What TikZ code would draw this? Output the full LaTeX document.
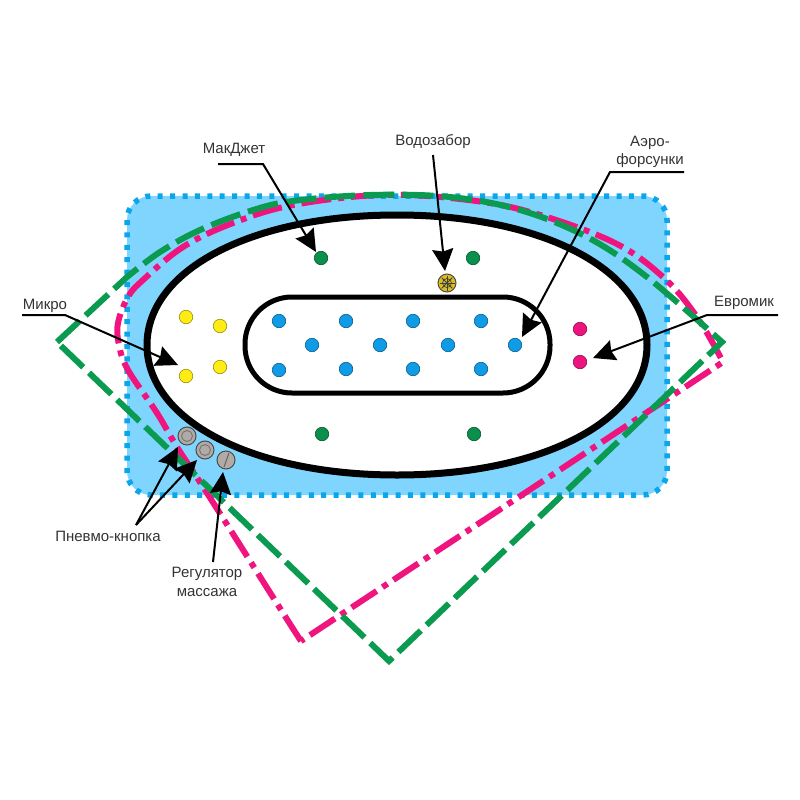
\documentclass[tikz,border=0pt]{standalone}
\usepackage{fontspec}
\setmainfont{Liberation Sans}
\usetikzlibrary{arrows.meta,calc}
\definecolor{skyfill}{HTML}{7FD5FD}
\definecolor{skyline}{HTML}{0AA5EA}
\definecolor{grn}{HTML}{0A9B50}
\definecolor{mag}{HTML}{F0147F}
\definecolor{dotblue}{HTML}{0F9BE6}
\definecolor{dotgreen}{HTML}{0A8F4C}
\definecolor{dotyel}{HTML}{FFEC14}
\definecolor{dotmag}{HTML}{EE1480}
\definecolor{dotgold}{HTML}{D9BE1E}
\definecolor{btn}{HTML}{B0ABA6}
\definecolor{txt}{HTML}{333333}
\tikzset{
  x=1pt,y=-1pt,
  spot/.style={circle,draw=#1!60!black,line width=.6pt,fill=#1,minimum size=13.5pt,inner sep=0pt},
  press/.style={circle,draw=black!70,line width=1pt,fill=btn,minimum size=18pt,inner sep=0pt},
  lbl/.style={font=\fontsize{15}{18.5}\selectfont,text=txt,inner sep=0pt,align=center},
  lead/.style={line width=2pt,black},
  pointer/.style={lead,-{Stealth[length=22pt,width=21pt,inset=2.5pt]}},
  greenline/.style={grn,line width=6pt,dash pattern=on 31pt off 8pt},
  magline/.style={mag,line width=6pt,dash pattern=on 30pt off 7pt on 6pt off 7pt},
}
\begin{document}
\begin{tikzpicture}
\useasboundingbox (0,0) rectangle (800,800);
% body
\draw[fill=skyfill,draw=skyline,line width=5.5pt,dash pattern=on 5pt off 7.4pt,rounded corners=24pt] (127,196) rectangle (667,495);
% contours
\draw[magline] plot[smooth,tension=.6] coordinates {(301,641) (283,613) (207,493) (177,447) (157,413) (128,370) (119,345) (118,323) (128,297) (143,280) (183,247) (233,223) (293,205) (380,195) (460,199) (530,212) (613,242) (663,277) (697,317) (723,362)}
  -- cycle;
\draw[greenline] (57,342) -- plot[smooth,tension=.6] coordinates {(127,277) (160,252) (200,230) (250,211) (293,201) (370,195) (450,197) (520,210) (587,237) (647,277) (722,342)}
  -- (389,661) -- cycle;
% bowl
\draw[fill=white,draw=black,line width=7pt]
  (147,345) .. controls (147,269.6) and (252,215) .. (397,215)
  .. controls (542,215) and (647,269.6) .. (647,345)
  .. controls (647,420.4) and (542,475) .. (397,475)
  .. controls (252,475) and (147,420.4) .. (147,345) -- cycle;
\draw[fill=white,draw=black,line width=5pt,rounded corners=47pt] (245,297) rectangle (550,393);
% jets
\foreach \n/\p in {y1/{186,317},y2/{220,326},y3/{220,367},y4/{186,376}} \node[spot=dotyel] (\n) at (\p) {};
\foreach \n/\p in {b1/{279,321},b2/{346,321},b3/{413,321},b4/{481,321},b5/{312,345},b6/{380,345},b7/{448,345},b8/{515,345},b9/{279,370},b10/{346,369},b11/{413,369},b12/{481,369}} \node[spot=dotblue] (\n) at (\p) {};
\foreach \n/\p in {g1/{321,258},g2/{473,258},g3/{322,434},g4/{474,434}} \node[spot=dotgreen] (\n) at (\p) {};
\foreach \n/\p in {m1/{580,329},m2/{580,362}} \node[spot=dotmag] (\n) at (\p) {};
% water intake
\node[circle,draw=black!70,line width=1pt,fill=dotgold,minimum size=18pt,inner sep=0pt] (w) at (447,283) {};
\foreach \a in {0,45,...,135} \draw[black!75,line width=.8pt] ($(w)+(\a:7.5)$) -- ($(w)+(\a+180:7.5)$);
\draw[black!75,line width=.7pt] (w) circle (4.5);
% buttons
\node[press] (p1) at (187,436) {};
\node[press] (p2) at (205,450) {};
\node[press] (r) at (226,460) {};
\draw[black!55,line width=.9pt] (p1) circle (5.5);
\draw[black!55,line width=.9pt] (p2) circle (5.5);
\draw[black!60,line width=1pt] ($(r)+(3,-7)$) -- ($(r)+(-2,7)$);
% labels
\node[lbl] (lmj) at (234,150) {МакДжет};
\node[lbl] (lw) at (433,142) {Водозабор};
\node[lbl] (la) at (650,152) {Аэро-\\форсунки};
\node[lbl] (le) at (744,303) {Евромик};
\node[lbl] (lm) at (45,306) {Микро};
\node[lbl] (lp) at (108,536) {Пневмо-кнопка};
\node[lbl] (lr) at (207,582) {Регулятор\\массажа};
% connectors
\coordinate (a0) at (218,164); \coordinate (a1) at (263,164);
\draw[pointer] (a0) -- (a1) -- ($(g1)+(-5,-6)$);
\draw[pointer] (433,155) -- ($(w)+(-2,-12)$);
\coordinate (c0) at (684,172); \coordinate (c1) at (610,172);
\draw[pointer] (c0) -- (c1) -- ($(b8)+(7,-8)$);
\coordinate (e0) at (778,315); \coordinate (e1) at (707,315);
\draw[pointer] (e0) -- (e1) -- ($(m2)+(13,-4)$);
\coordinate (k0) at (22,315); \coordinate (k1) at (65,315);
\draw[pointer] (k0) -- (k1) -- ($(y4)+(-8,-11)$);
\coordinate (j) at (136,525);
\draw[pointer] (j) -- ($(p1)+(-9,11)$);
\draw[pointer] (j) -- ($(p2)+(-8,10)$);
\draw[pointer] (213,562) -- ($(r)+(-3,12)$);
\end{tikzpicture}
\end{document}
